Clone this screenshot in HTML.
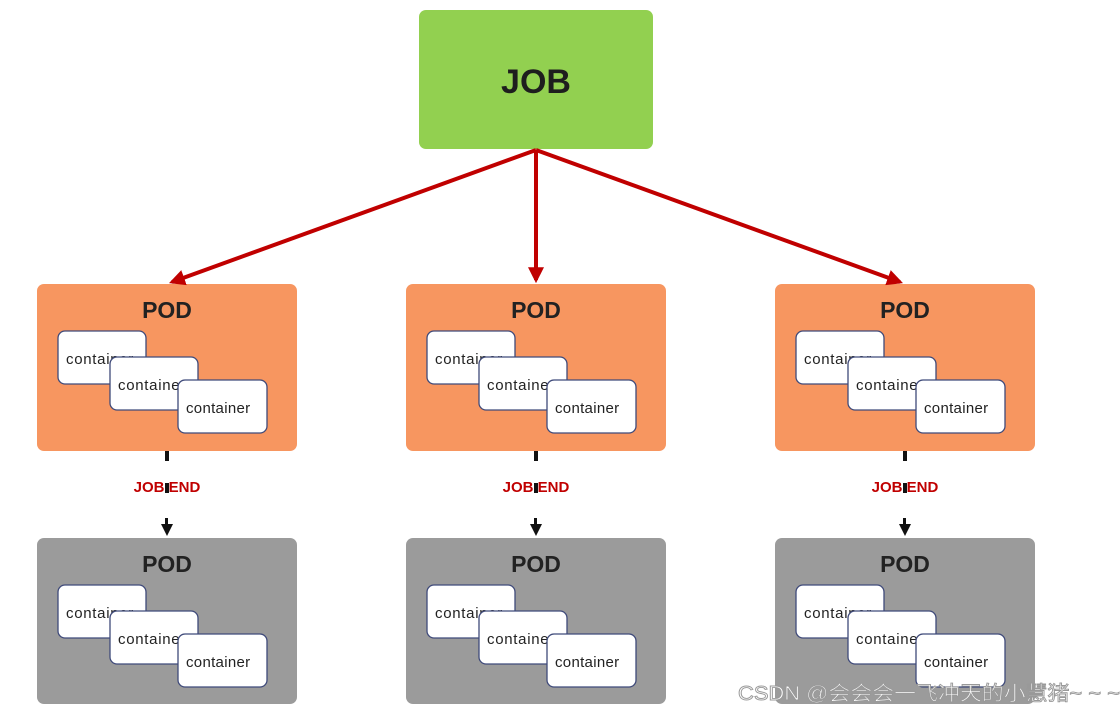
<!DOCTYPE html>
<html><head><meta charset="utf-8"><style>
html,body{margin:0;padding:0;background:#fff;}
svg{display:block;}
text{font-family:"Liberation Sans","Noto Sans CJK SC",sans-serif;}
</style></head><body>
<svg width="1120" height="713" viewBox="0 0 1120 713" xmlns="http://www.w3.org/2000/svg">
<defs>
<marker id="ra" markerWidth="4" markerHeight="4" refX="3.2" refY="2" orient="auto" markerUnits="strokeWidth"><path d="M0,0 L4,2 L0,4 z" fill="#c00000"/></marker>
<g id="cons">
<rect x="21" y="47" width="88" height="53" rx="7" fill="#fff" stroke="#3f4a7a" stroke-width="1.3"/>
<text x="29" y="80" font-size="15" letter-spacing="0.7" fill="#222">container</text>
<rect x="73" y="73" width="88" height="53" rx="7" fill="#fff" stroke="#3f4a7a" stroke-width="1.3"/>
<text x="81" y="106" font-size="15" letter-spacing="0.7" fill="#222">container</text>
<rect x="141" y="96" width="89" height="53" rx="7" fill="#fff" stroke="#3f4a7a" stroke-width="1.3"/>
<text x="149" y="129" font-size="15" letter-spacing="0.3" fill="#222">container</text>
</g>
<g id="pod1">
<rect x="0" y="0" width="260" height="167" rx="7" fill="#f79660"/>
<text x="130" y="34" font-size="23" font-weight="bold" fill="#222" text-anchor="middle">POD</text>
<use href="#cons"/>
<rect x="128" y="167" width="4" height="10" fill="#111"/>
<text x="130" y="208" font-size="15" font-weight="bold" fill="#c00000" text-anchor="middle">JOB END</text>
<rect x="128" y="199" width="4" height="10" fill="#111"/>
<rect x="128" y="234" width="3" height="8" fill="#111"/>
<path d="M124,240 L136,240 L130,252 z" fill="#111"/>
</g>
<g id="pod2">
<rect x="0" y="0" width="260" height="166" rx="7" fill="#9b9b9b"/>
<text x="130" y="34" font-size="23" font-weight="bold" fill="#222" text-anchor="middle">POD</text>
<use href="#cons"/>
</g>
</defs>
<rect x="419" y="10" width="234" height="139" rx="7" fill="#92d050"/>
<text x="536" y="93" font-size="34" font-weight="bold" fill="#1e1e1e" text-anchor="middle">JOB</text>
<use href="#pod1" x="37" y="284"/>
<use href="#pod1" x="406" y="284"/>
<use href="#pod1" x="775" y="284"/>
<use href="#pod2" x="37" y="538"/>
<use href="#pod2" x="406" y="538"/>
<use href="#pod2" x="775" y="538"/>
<g stroke="#c00000" stroke-width="4" fill="none" marker-end="url(#ra)">
<line x1="536" y1="150" x2="172" y2="282"/>
<line x1="536" y1="150" x2="536" y2="280"/>
<line x1="536" y1="150" x2="900" y2="282"/>
</g>
<text x="738" y="700" font-size="20" fill="#fff" stroke="#999" stroke-width="0.9" textLength="382" lengthAdjust="spacingAndGlyphs">CSDN @会会会一飞冲天的小慧猪~ ~ ~</text>
</svg>
</body></html>
